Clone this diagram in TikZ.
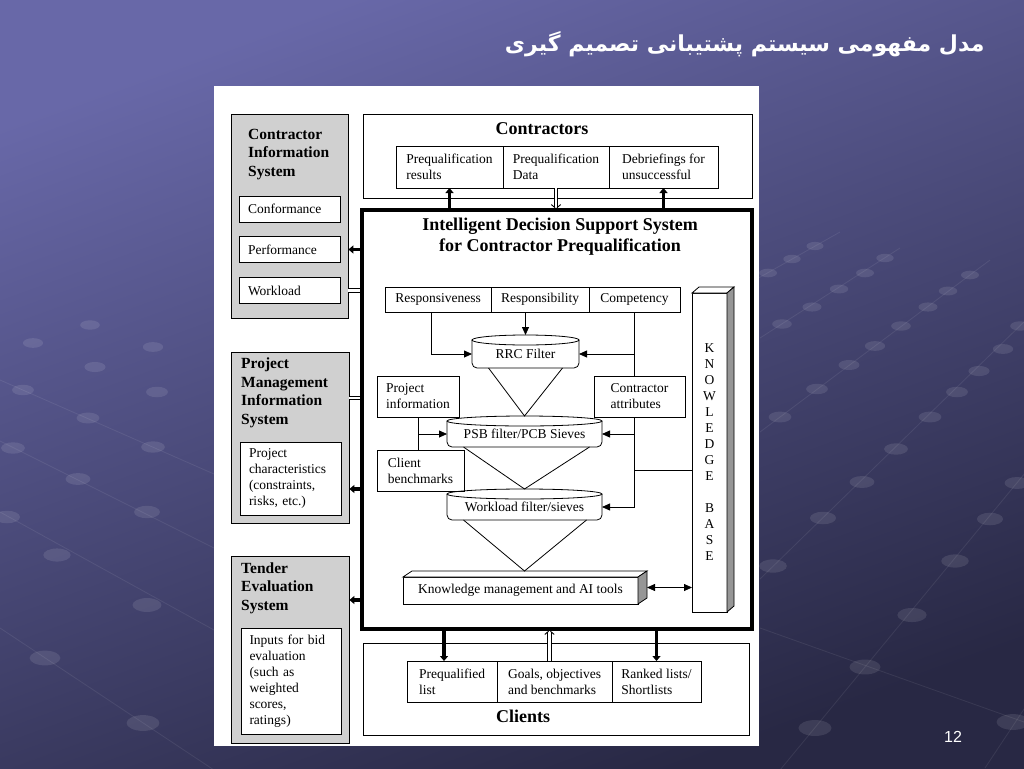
\documentclass[tikz,border=0pt]{standalone}
\usepackage{fontspec}
\setmainfont{Liberation Serif}
\newfontfamily\farsifont[Script=Arabic]{DejaVu Sans}
\newfontfamily\numfont{Liberation Sans}
\TeXXeTstate=1
\usepackage{tikz}
\usetikzlibrary{positioning,arrows.meta,calc}

\definecolor{slidetop}{RGB}{104,104,168}
\definecolor{slidebot}{RGB}{40,40,68}
\definecolor{panelgray}{RGB}{208,208,208}
\definecolor{sidegray}{RGB}{150,150,150}

\tikzset{
  wire/.style={line width=0.8pt},
  lbl/.style={font=\fontsize{13.5}{16}\selectfont, align=left},
  cell/.style={draw, wire, fill=white, lbl, inner sep=0pt, outer sep=0pt},
  sidebox/.style={cell, text width=83pt, inner xsep=9pt, minimum height=26pt},
  sysbox/.style={draw, wire, fill=panelgray},
  systitle/.style={font=\fontsize{15.5}{18.5}\selectfont\bfseries, align=left, inner sep=0pt, anchor=west},
  bigtitle/.style={font=\fontsize{18}{21}\selectfont\bfseries, align=center},
  sieve/.style={lbl, inner sep=0pt, outer sep=0pt},
  tip/.style={wire, -{Triangle[length=8pt,width=7pt]}},
  fatarrow/.style={line width=3.5pt, -{Triangle[length=5pt,width=8pt]}},
  hollowarrow/.style={line width=0.9pt, double, double distance=2.6pt, -{Implies}, shorten >=-1pt},
  hollowline/.style={line width=0.9pt, double, double distance=2.6pt, shorten >=-2pt},
  dotfill/.style={fill=white, fill opacity=0.1},
  dotline/.style={white, opacity=0.08, line width=0.8pt}
}

\begin{document}
\begin{tikzpicture}[x=1pt,y=-1pt]
  % slide, 1024 x 768 px, y downwards
  \useasboundingbox (0,0) rectangle (1024,768);
  \shade[top color=slidetop, bottom color=slidebot, shading angle=20] (0,0) rectangle (1024,768);
  % rows of dots in the background
  \draw[dotline] (755,280) -- (840,232);
  \draw[dotline] (760,338) -- (900,248);
  \draw[dotline] (760,432) -- (990,260);
  \draw[dotline] (760,579) -- (1030,316);
  \draw[dotline] (780,770) -- (1030,467);
  \draw[dotline] (985,768) -- (1030,700);
  \draw[dotline] (760,628) -- (1024,722);
  \draw[dotline] (0,380) -- (214,474);
  \draw[dotline] (0,441) -- (214,548);
  \draw[dotline] (0,512) -- (214,630);
  \draw[dotline] (0,628) -- (214,770);
  \foreach \x/\y in {815/246,792/259,768/273,885/258,865/273,839/289,812/307,782/324,
      970/275,948/291,928/307,901/326,875/346,849/365,817/389,780/417,
      1020/326,1003/349,979/371,957/392,930/417,896/449,862/482,823/518,773/566,
      1017/483,990/519,955/561,912/615,865/667,815/728,1013/722,
      33/343,90/325,153/347,95/367,23/390,157/392,88/418,13/448,153/447,
      78/479,7/517,147/512,57/555,147/605,45/658,143/723} {
    \pgfmathsetmacro\rx{4.4+\y/60}
    \fill[dotfill] (\x,\y) ellipse [x radius=\rx pt, y radius=0.48*\rx pt];
  }
  % title and page number
  \node[text=white, font=\farsifont\fontsize{22}{26}\selectfont\bfseries, anchor=east] (title) at (988,44)
    {\beginR مدل مفهومی سیستم پشتیبانی تصمیم گیری\endR};
  \node[text=white, font=\numfont\fontsize{16}{18}\selectfont] (pgno) at (953,737) {12};
  % white figure panel
  \fill[white] (214,86) rectangle (759,746);

  % left column
  \node[sysbox, minimum width=117pt, minimum height=204pt] (cis) at (289.5,216) {};
  \node[systitle] (cist) at (248,154.5) {Contractor\\Information\\System};
  \node[sidebox] (conf) at (289.5,209) {Conformance};
  \node[sidebox] (perf) at (289.5,249.5) {Performance};
  \node[sidebox] (wkl) at (289.5,290.5) {Workload};
  \node[sysbox, minimum width=118pt, minimum height=171pt] (pmis) at (290,437.5) {};
  \node[systitle] (pmist) at (241,393) {Project\\Management\\Information\\System};
  \node[sidebox, minimum height=73pt] (pmch) at (290.5,478.5) {Project\\characteristics\\(constraints,\\risks, etc.)};
  \node[sysbox, minimum width=118pt, minimum height=187pt] (tes) at (290,649.5) {};
  \node[systitle] (test) at (241,588) {Tender\\Evaluation\\System};
  \node[sidebox, text width=83pt, inner xsep=8.5pt, minimum height=106pt] (tein) at (291,681) {Inputs for bid\\evaluation\\(such as\\weighted\\scores,\\ratings)};

  % contractors
  \node[draw, wire, minimum width=389pt, minimum height=84pt] (ctr) at (557.5,156) {};
  \node[bigtitle] (ctrt) at (542,129) {Contractors};
  \node[cell, minimum width=107pt, minimum height=42pt] (cr1) at (449.5,167) {Prequalification\\results};
  \node[cell, minimum width=106pt, minimum height=42pt] (cr2) at (556,167) {Prequalification\\Data};
  \node[cell, minimum width=109pt, minimum height=42pt] (cr3) at (663.5,167) {Debriefings for\\unsuccessful};

  % clients
  \node[draw, wire, minimum width=386pt, minimum height=92pt] (cli) at (556,689) {};
  \node[cell, minimum width=90pt, minimum height=41pt] (cl1) at (452,681.5) {Prequalified\\list};
  \node[cell, minimum width=115pt, minimum height=41pt] (cl2) at (554.5,681.5) {Goals, objectives\\and benchmarks};
  \node[cell, minimum width=89pt, minimum height=41pt] (cl3) at (656.5,681.5) {Ranked lists/\\Shortlists};
  \node[bigtitle] (clit) at (523,716) {Clients};

  % decision support system
  \node[draw, line width=4pt, outer sep=0pt, minimum width=390pt, minimum height=419pt] (idss) at (557,419.5) {};
  \node[bigtitle] (idsst) at (560,236.5) {Intelligent Decision Support System\\for Contractor Prequalification};
  \node[cell, minimum width=106pt, minimum height=25pt] (rsv) at (438,299.5) {Responsiveness};
  \node[cell, minimum width=98pt, minimum height=25pt] (rsb) at (540,299.5) {Responsibility};
  \node[cell, minimum width=91pt, minimum height=25pt] (cmp) at (634.5,299.5) {Competency};
  \node[cell, minimum width=82pt, minimum height=41pt] (pinf) at (418,396.5) {Project\\information};
  \node[cell, minimum width=87pt, minimum height=41pt] (cbm) at (420.5,470.5) {Client\\benchmarks};
  \node[cell, minimum width=91pt, minimum height=41pt] (cat) at (639.5,396.5) {Contractor\\attributes};
  % sieves
  \node[sieve, minimum width=107pt, minimum height=28pt] (rrc) at (525.5,354) {RRC Filter};
  \node[sieve, minimum width=155pt, minimum height=26pt] (psb) at (524.5,434) {PSB filter/PCB Sieves};
  \node[sieve, minimum width=155pt, minimum height=26pt] (wlf) at (524.5,507) {Workload filter/sieves};
  \foreach \n/\w in {rrc/53.5,psb/77.5,wlf/77.5} {
    \draw[wire, rounded corners=5pt] (\n.north west) -- (\n.south west) -- (\n.south east) -- (\n.north east);
    \draw[wire] (\n.north) ellipse [x radius=\w pt, y radius=5pt];
  }
  % knowledge management bar and knowledge base column
  \node[cell, minimum width=235pt, minimum height=27pt, align=center] (kmt) at (520.5,590.5) {Knowledge management and AI tools};
  \draw[wire, fill=white] (kmt.north west) -- ++(9,-6) -- ($(kmt.north east)+(9,-6)$) -- (kmt.north east) -- cycle;
  \draw[wire, fill=sidegray] (kmt.north east) -- ++(9,-6) -- ($(kmt.south east)+(9,-6)$) -- (kmt.south east) -- cycle;
  \node[cell, minimum width=35pt, minimum height=319pt, align=center] (kb) at (709.5,452.5)
    {K\\N\\O\\W\\L\\E\\D\\G\\E\\[16pt]B\\A\\S\\E};
  \draw[wire, fill=white] (kb.north west) -- ++(7,-6) -- ($(kb.north east)+(7,-6)$) -- (kb.north east) -- cycle;
  \draw[wire, fill=sidegray] (kb.north east) -- ++(7,-6) -- ($(kb.south east)+(7,-6)$) -- (kb.south east) -- cycle;
  % funnels
  \draw[wire] ($(rrc.south)+(-37,0)$) -- ($(psb.north)+(0,-5)$) -- ($(rrc.south)+(37,0)$);
  \draw[wire] ($(psb.south)+(-61,0)$) -- ($(wlf.north)+(0,-5)$) -- ($(psb.south)+(65,0)$);
  \draw[wire] ($(wlf.south)+(-61,0)$) -- ($(kmt.north)+(4,-6)$) -- ($(wlf.south)+(62,0)$);
  % inner connectors
  \coordinate (rsvout) at ([xshift=-7pt]rsv.south);
  \draw[tip] (rsvout) |- (rrc.west);
  \draw[tip] (rrc.north |- rsb.south) -- ([yshift=5pt]rrc.north);
  \draw[wire] (cmp.south) -- (cmp.south |- cat.north);
  \draw[tip] (cmp.south |- rrc.east) -- (rrc.east);
  \draw[tip] (cmp.south |- cat.south) |- (wlf.east);
  \draw[tip] (cmp.south |- psb.east) -- (psb.east);
  \draw[wire] (cmp.south |- cbm.east) -- (kb.west |- cbm.east);
  \draw[wire] (pinf.south) -- (pinf.south |- cbm.north);
  \draw[tip] (pinf.south |- psb.west) -- (psb.west);
  \coordinate (kmr) at ([xshift=9pt,yshift=3pt]kmt.east);
  \draw[wire, {Triangle[length=8pt,width=7pt]}-{Triangle[length=8pt,width=7pt]}] (kmr) -- (kmr -| kb.west);

  % flows in and out of the system
  \coordinate (cl1in) at ([xshift=-8pt]cl1.north);
  \coordinate (cl2in) at ([xshift=-5pt]cl2.north);
  \coordinate (pmhl) at ([yshift=-5pt]pmist.west);
  \coordinate (pmfa) at ([yshift=-10.5pt]pmch.west);
  \coordinate (tefa) at ([yshift=-12pt]test.west);
  \draw[hollowarrow] (cr2.south) -- (cr2.south |- idss.north);
  \draw[hollowarrow] (cl2in) -- (cl2in |- idss.south);
  \draw[hollowline] (wkl.east -| cis.east) -- (wkl.east -| idss.west);
  \draw[hollowline] (pmhl -| pmis.east) -- (pmhl -| idss.west);
  % border drawn again over the hollow arrow heads
  \draw[line width=4pt] (idss.south west) rectangle (idss.north east);
  \draw[fatarrow] (cr1.south |- idss.north) -- (cr1.south);
  \draw[fatarrow] (cr3.south |- idss.north) -- (cr3.south);
  \draw[fatarrow] (cl1in |- idss.south) -- (cl1in);
  \draw[fatarrow] (cl3.north |- idss.south) -- (cl3.north);
  \draw[fatarrow] (perf.east -| idss.west) -- (perf.east -| cis.east);
  \draw[fatarrow] (pmfa -| idss.west) -- (pmfa -| pmis.east);
  \draw[fatarrow] (tefa -| idss.west) -- (tefa -| tes.east);
\end{tikzpicture}
\end{document}
